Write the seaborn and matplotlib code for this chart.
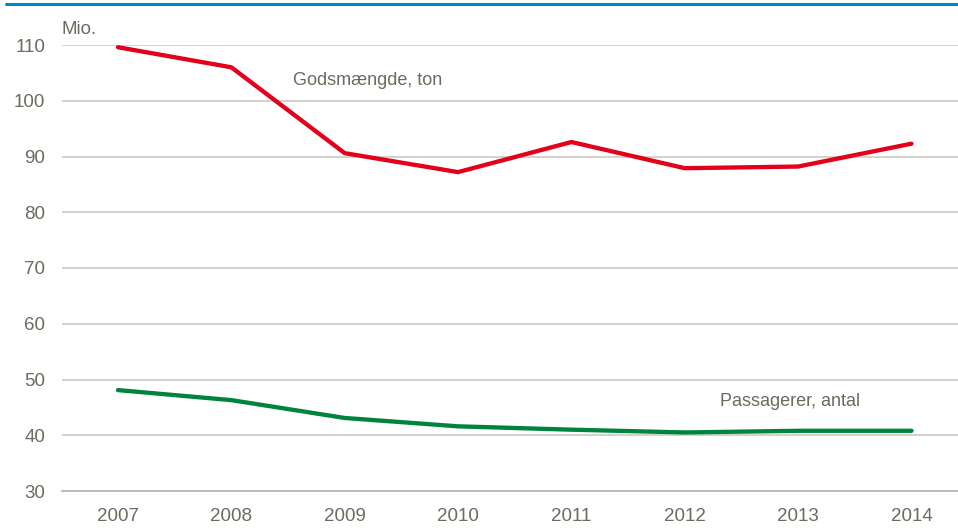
import seaborn as sns
import matplotlib.pyplot as plt
import matplotlib
import pandas as pd

years = ["2007", "2008", "2009", "2010", "2011", "2012", "2013", "2014"]
gods = [109.6, 106.0, 90.6, 87.2, 92.6, 87.9, 88.2, 92.3]
passagerer = [48.1, 46.3, 43.1, 41.6, 41.0, 40.5, 40.8, 40.8]


def build_a_graph(df):
    sns.set_style("white")
    matplotlib.rcParams['font.family'] = ['Liberation Sans Narrow', 'Liberation Sans', 'DejaVu Sans']
    txt = "#6b6b5e"
    fig = plt.figure(figsize=(9.58, 5.28), dpi=100)
    ax = fig.add_axes([62 / 958, 1 - 491 / 528, 896 / 958, 446 / 528])
    sns.lineplot(x=df.index, y=df['gods'], color="#e2001a", linewidth=3.1, ax=ax)
    sns.lineplot(x=df.index, y=df['passagerer'], color="#00843d", linewidth=3.1, ax=ax)
    ax.set_xlim(-0.494, 7.41)
    ax.set_ylim(30, 110)
    ax.set_yticks(range(30, 111, 10))
    ax.set_xticks(range(len(years)))
    ax.set_xticklabels(years)
    ax.yaxis.grid(True, color="#cfcfc5", linewidth=1.3)
    ax.set_axisbelow(True)
    for s in ["left", "right", "top"]:
        ax.spines[s].set_visible(False)
    ax.spines["bottom"].set_color("#b8b8ae")
    ax.spines["bottom"].set_linewidth(1.3)
    ax.tick_params(axis="both", length=0, labelsize=13.5, colors=txt, pad=12)
    ax.tick_params(axis="x", pad=12)
    ax.set_xlabel("")
    ax.set_ylabel("")
    fig.text(62 / 958, 1 - 30 / 528, "Mio.", color=txt, fontsize=13.5, va="center", ha="left")
    ax.text(2.2, 103.6, "Godsmængde, ton", color=txt, fontsize=13, ha="center", va="center")
    ax.text(5.93, 46.1, "Passagerer, antal", color=txt, fontsize=13, ha="center", va="center")
    # blue rule on top
    fig.add_artist(matplotlib.lines.Line2D([6 / 958, 1], [1 - 3.5 / 528, 1 - 3.5 / 528],
                                           color="#0088cc", linewidth=2.2))
    plt.savefig("out.png", dpi=100)


df = pd.DataFrame({"gods": gods, "passagerer": passagerer}, index=range(len(years)))
build_a_graph(df)
